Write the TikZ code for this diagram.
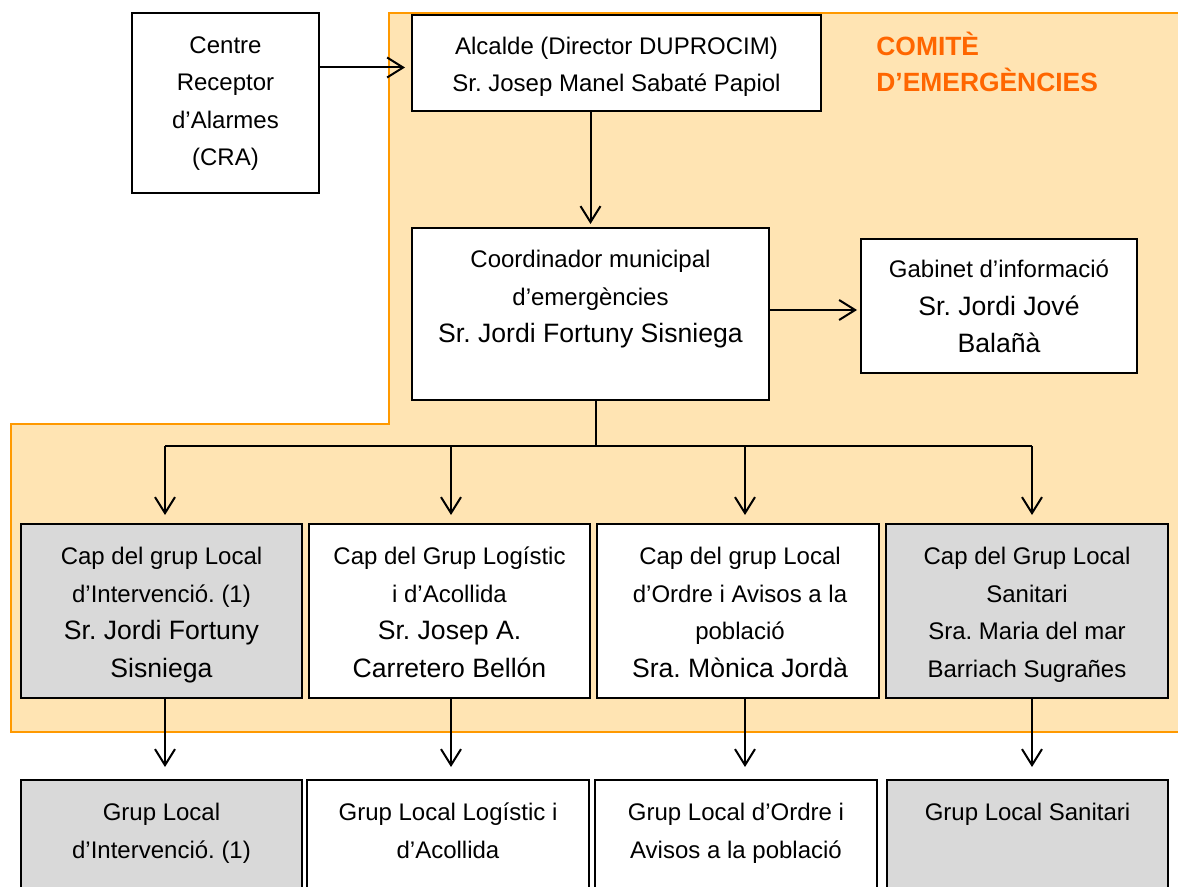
\documentclass[tikz,border=0pt]{standalone}
\usepackage{fontspec}
\setmainfont{Liberation Sans}
\usetikzlibrary{arrows.meta}
\definecolor{orfill}{HTML}{FFE4B3}
\definecolor{orline}{HTML}{FF9900}
\definecolor{ortext}{HTML}{FF6600}
\definecolor{grayfill}{HTML}{D9D9D9}
\newcommand\smtxt{\fontsize{12}{18.75}\selectfont}
\newcommand\bigtxt{\fontsize{13.3}{18.75}\selectfont}
\frenchspacing
\begin{document}
\begin{tikzpicture}[x=0.5pt,y=-0.5pt,
  box/.style={draw=black, line width=1pt, fill=white, inner sep=0pt, outer sep=0pt},
  graybox/.style={box, fill=grayfill},
  txt/.style={anchor=base, align=center, inner sep=0pt, font=\smtxt},
  arr/.style={line width=1pt, -{Straight Barb[length=8pt,width=10pt,line width=1pt]}},
  lin/.style={line width=1pt}]
\useasboundingbox (0,0) rectangle (1178,887);
\clip (0,0) rectangle (1178,887);
% committee region
\draw[orline, line width=0.9pt, fill=orfill]
  (389,13) -- (1190,13) -- (1190,732) -- (11,732) -- (11,424) -- (389,424) -- cycle;
\node[anchor=base west, inner sep=0pt, align=left, text=ortext, font=\fontsize{13.2}{18.4}\selectfont\bfseries]
  (comite) at (876,92) {COMITÈ\\D’EMERGÈNCIES};
% boxes
\node[box, minimum width=93.5pt, minimum height=90pt] (cra) at (225.5,103) {};
\node[box, minimum width=204.5pt, minimum height=48pt] (alc) at (616.5,63) {};
\node[box, minimum width=178.5pt, minimum height=86pt] (coord) at (590.5,314) {};
\node[box, minimum width=138pt, minimum height=67pt] (gab) at (999,306) {};
\node[graybox, minimum width=140.5pt, minimum height=87pt] (c1) at (161.5,611) {};
\node[box, minimum width=140.5pt, minimum height=87pt] (c2) at (449.5,611) {};
\node[box, minimum width=141pt, minimum height=87pt] (c3) at (738,611) {};
\node[graybox, minimum width=141pt, minimum height=87pt] (c4) at (1027,611) {};
\node[graybox, minimum width=140.5pt, minimum height=60pt] (g1) at (161.5,840) {};
\node[box, minimum width=141pt, minimum height=60pt] (g2) at (448,840) {};
\node[box, minimum width=141pt, minimum height=60pt] (g3) at (736,840) {};
\node[graybox, minimum width=140.5pt, minimum height=60pt] (g4) at (1027.5,840) {};
% texts (anchor = baseline of last line)
\node[txt] (tcra) at (225.5,166) {Centre\\Receptor\\d’Alarmes\\(CRA)};
\node[txt] (talc) at (616.5,92) {Alcalde (Director DUPROCIM)\\Sr. Josep Manel Sabaté Papiol};
\node[txt] (tcoord) at (590.5,343) {Coordinador municipal\\d’emergències\\{\bigtxt Sr. Jordi Fortuny Sisniega}};
\node[txt] (tgab) at (999,353) {Gabinet d’informació\\{\bigtxt Sr. Jordi Jové}\\{\bigtxt Balañà}};
\node[txt] (tc1) at (161.5,677) {Cap del grup Local\\d’Intervenció. (1)\\{\bigtxt Sr. Jordi Fortuny}\\{\bigtxt Sisniega}};
\node[txt] (tc2) at (449.5,677) {Cap del Grup Logístic\\i d’Acollida\\{\bigtxt Sr. Josep A.}\\{\bigtxt Carretero Bellón}};
\node[txt] (tc3) at (740,677) {Cap del grup Local\\d’Ordre i Avisos a la\\població\\{\bigtxt Sra. Mònica Jordà}};
\node[txt] (tc4) at (1027,677) {Cap del Grup Local\\Sanitari\\Sra. Maria del mar\\Barriach Sugrañes};
\node[txt] (tg1) at (161.5,858) {Grup Local\\d’Intervenció. (1)};
\node[txt] (tg2) at (448,858) {Grup Local Logístic i\\d’Acollida};
\node[txt] (tg3) at (736,858) {Grup Local d’Ordre i\\Avisos a la població};
\node[txt] (tg4) at (1027.5,820) {Grup Local Sanitari};
% connectors
\draw[arr, shorten >=3.5pt] (cra.east |- 0,67.5) -- (alc.west |- 0,67.5);
\draw[arr, shorten >=2pt] (alc.south -| coord.north) -- (coord.north);
\draw[arr, shorten >=2pt] ([yshift=2pt]coord.east) -- ([yshift=2pt]coord.east -| gab.west);
\coordinate (bus) at (596,446);
\coordinate (b1) at (165,446);
\coordinate (b2) at (451,446);
\coordinate (b3) at (745,446);
\coordinate (b4) at (1032,446);
\draw[lin] (coord.south -| bus) -- (bus);
\draw[lin] (b1) -- (b4);
\foreach \i in {1,2,3,4}{
  \draw[arr, shorten >=4.5pt] (b\i) -- (b\i |- c\i.north);
  \draw[arr, shorten >=6.5pt] (b\i |- c\i.south) -- (b\i |- g\i.north);
}
\end{tikzpicture}
\end{document}
